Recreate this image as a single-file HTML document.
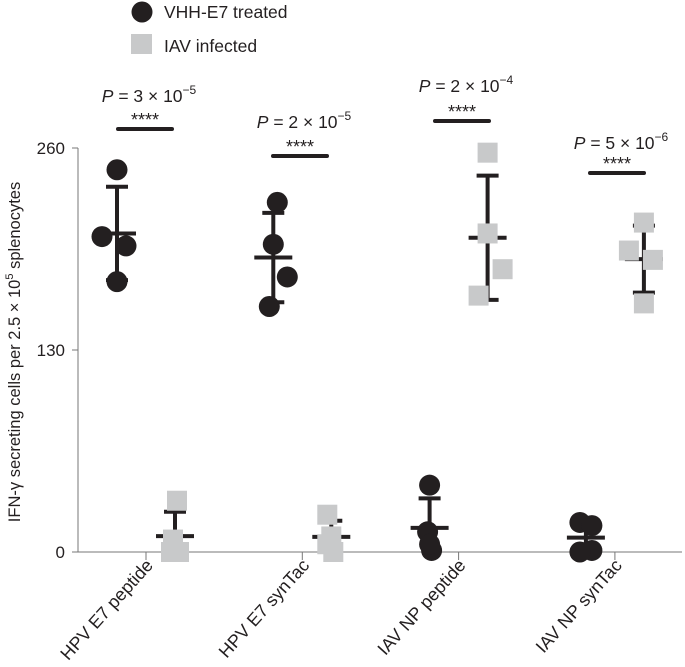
<!DOCTYPE html>
<html><head><meta charset="utf-8"><style>
body{margin:0;background:#fff}
svg{display:block;font-family:"Liberation Sans",Arial,sans-serif}
</style></head><body>
<svg id="chart" width="685" height="667" viewBox="0 0 685 667">
<g>
<circle cx="142" cy="12" r="10.5" fill="#231f20"/>
<text x="164" y="18" font-size="17.5" fill="#231f20">VHH-E7 treated</text>
<rect x="131" y="34" width="21" height="20" fill="#c8c9ca"/>
<text x="164" y="52" font-size="17.5" fill="#231f20">IAV infected</text>
</g>
<g id="axes"></g>
<g id="bars"></g>
<g id="marks"></g>
<g id="annot"></g>
<text transform="translate(20,352) rotate(-90)" text-anchor="middle" font-size="16.5" fill="#231f20">IFN-γ secreting cells per 2.5 × 10<tspan dy="-7" font-size="11">5</tspan><tspan dy="7"> splenocytes</tspan></text>
</svg>
<script>
const categories=["HPV E7 peptide","HPV E7 synTac","IAV NP peptide","IAV NP synTac"];
const yTicks=[0,130,260];
const vhhValues=[[246,203,197,174],[225,198,177,158],[43,13,1,5],[19,17,1,0]];
const vhhOffsets=[[0,-15,9,0],[4,0,14,-4],[0,-2,2,0],[-6,6,6,-6]];
const iavValues=[[33,8,0,0],[24,10,0,5],[257,205,182,165],[212,194,188,160]];
const iavOffsets=[[2,-2,4,-4],[-4,0,2,-4],[0,0,15,-9],[0,-15,9,0]];
const pLabels=[["3","−5"],["2","−5"],["2","−4"],["5","−6"]];
const pBarY=[129,156,121,173];
const pTextY=[102,128,92,149];
const pBarX=[145,300,462,617];

const NS="http://www.w3.org/2000/svg";
const x0=78,x1=682,yBase=552,yTop=148,ymax=260;
const y=v=>yBase-(v/ymax)*(yBase-yTop);
const tickX=i=>146+i*156.3;
const catX=i=>tickX(i)-29;
const mk=(p,t,a)=>{const e=document.createElementNS(NS,t);for(const k in a)e.setAttribute(k,a[k]);p.appendChild(e);return e;};
const axes=document.getElementById('axes'),bars=document.getElementById('bars'),marks=document.getElementById('marks'),annot=document.getElementById('annot');
let e=mk(axes,'line',{x1:x0,x2:x0,y1:yTop,y2:yBase,stroke:'#777','stroke-width':1});


e=mk(axes,'line',{x1:x0,x2:x1,y1:yBase,y2:yBase,stroke:'#777','stroke-width':1});


yTicks.forEach(v=>{
 let t=mk(axes,'line',{x1:x0-6,x2:x0,y1:y(v),y2:y(v),stroke:'#777'});
 
 
 let l=mk(axes,'text',{x:x0-13,y:y(v)+6,'text-anchor':'end','font-size':17,fill:'#231f20'});
 l.textContent=v;
 
 
});
categories.forEach((c,i)=>{
 let t=mk(axes,'line',{x1:tickX(i),x2:tickX(i),y1:yBase,y2:yBase+8,stroke:'#777'});
 
 
 let l=mk(axes,'text',{transform:`translate(${tickX(i)+8},${yBase+14}) rotate(-48)`,'text-anchor':'end','font-size':18,fill:'#231f20'});
 l.textContent=c;
 
 
});
const mean=a=>a.reduce((s,v)=>s+v,0)/a.length;
const sd=a=>{const m=mean(a);return Math.sqrt(a.reduce((s,v)=>s+(v-m)*(v-m),0)/(a.length-1));};
function drawGroup(vals,offs,cx,kind){
 const m=mean(vals),s=sd(vals);
 const bg=mk(bars,'g',{});
 
 
 const st={stroke:'#231f20','stroke-width':4};
 let l=mk(bg,'line',Object.assign({x1:cx,x2:cx,y1:y(m+s),y2:y(Math.max(0,m-s))},st));
 
 
 l=mk(bg,'line',Object.assign({x1:cx-11,x2:cx+11,y1:y(m+s),y2:y(m+s)},st));
 
 
 if(m-s>0){l=mk(bg,'line',Object.assign({x1:cx-11,x2:cx+11,y1:y(m-s),y2:y(m-s)},st));
 
 }
 l=mk(bg,'line',Object.assign({x1:cx-19,x2:cx+19,y1:y(m),y2:y(m)},st));
 
 
 const g=mk(marks,'g',{});
 
 
 vals.forEach((v,j)=>{
  let p;
  if(kind==='vhh'){p=mk(g,'circle',{cx:cx+offs[j],cy:y(v),r:10.5,fill:'#231f20'});}
  else{p=mk(g,'rect',{x:cx+offs[j]-10,y:y(v)-10,width:20,height:20,fill:'#c8c9ca'});}
  
  
 });
}
categories.forEach((c,i)=>{
 drawGroup(vhhValues[i],vhhOffsets[i],catX(i),'vhh');
 drawGroup(iavValues[i],iavOffsets[i],catX(i)+58,'iav');
 const bx=pBarX[i];
 let b=mk(annot,'line',{x1:bx-27,x2:bx+27,y1:pBarY[i],y2:pBarY[i],stroke:'#231f20','stroke-width':4,'stroke-linecap':'round'});
 
 
 let s=mk(annot,'text',{x:bx,y:pBarY[i]-3,'text-anchor':'middle','font-size':18,fill:'#231f20'});
 s.textContent='****';
 
 
 let t=mk(annot,'text',{x:bx+4,y:pTextY[i],'text-anchor':'middle','font-size':17.5,fill:'#231f20'});
 t.innerHTML=`<tspan font-style="italic">P</tspan> = ${pLabels[i][0]} × 10<tspan dy="-8" font-size="12">${pLabels[i][1]}</tspan>`;
 
 
});
</script>
</body></html>
